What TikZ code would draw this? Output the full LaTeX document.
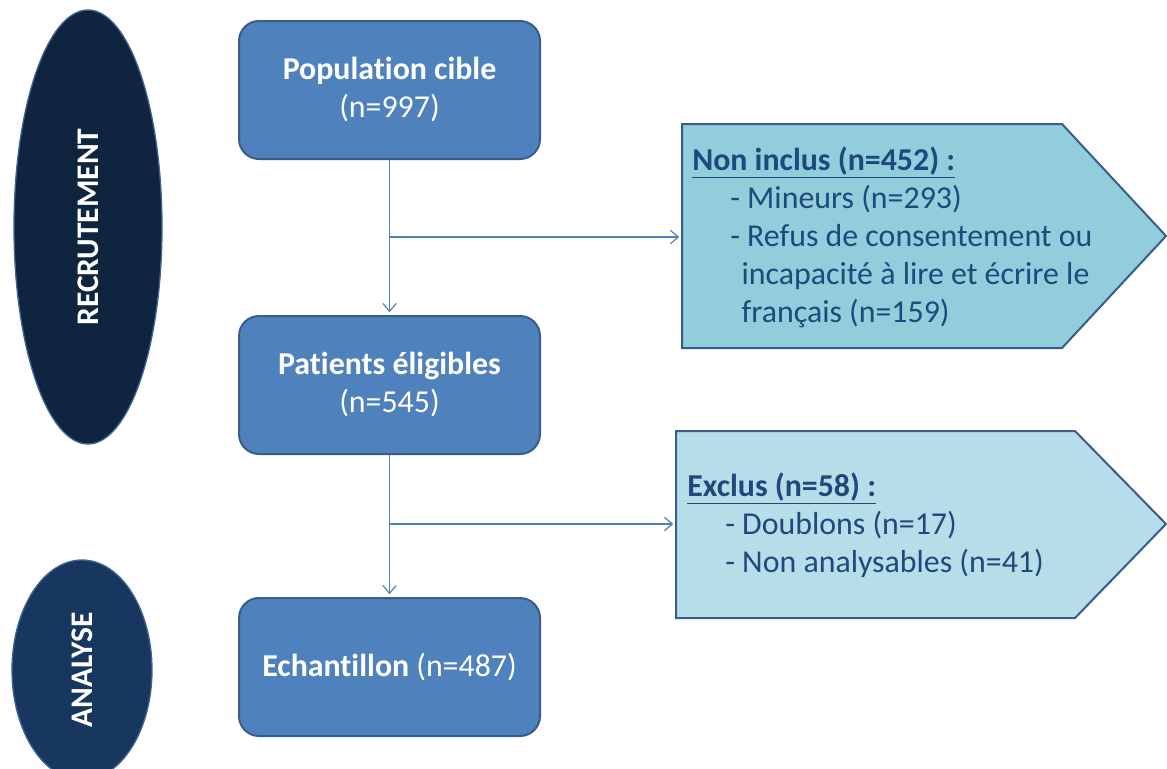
\documentclass[tikz,border=0pt]{standalone}
\usepackage{fontspec}
\setmainfont{Carlito}[Ligatures=NoCommon]
\usepackage{xcolor}
\usepackage{tikz}
\usetikzlibrary{shapes.geometric, arrows.meta}

\definecolor{boxfill}{HTML}{4F81BD}
\definecolor{boxline}{HTML}{385D8A}
\definecolor{phasefill}{HTML}{0F243E}
\definecolor{phasefillb}{HTML}{17375E}
\definecolor{nonfill}{HTML}{92CDDC}
\definecolor{exfill}{HTML}{B7DEE8}
\definecolor{textblue}{HTML}{1F497D}

\begin{document}
\begin{tikzpicture}[x=0.75pt,y=0.75pt,yscale=-1,xscale=1,
  stepbox/.style={draw=boxline, line width=1.5pt, fill=boxfill, rounded corners=15pt,
    minimum width=225.75pt, minimum height=103.5pt, text=white, align=center,
    font=\fontsize{23.9}{28.5}\selectfont},
  phase/.style={ellipse, draw=boxline!80!boxfill, line width=1pt, inner sep=0pt, text=white,
    font=\bfseries\fontsize{23.6}{28}\selectfont, rotate=90},
  tag/.style={draw=boxline, line width=1.5pt},
  list/.style={anchor=north west, inner sep=0pt, align=left, text=textblue,
    font=\fontsize{23.9}{28.5}\selectfont},
  flow/.style={draw=boxfill, line width=0.9pt, shorten >=2pt,
    -{Straight Barb[length=6pt,width=10pt]}}
]
\useasboundingbox (0,0) rectangle (1167,768);
\clip (0,0) rectangle (1167,768);

%Shape: Ellipse (phases)
\node[phase, fill=phasefill, minimum width=325.5pt, minimum height=111pt] (recr) at (88,227) {RECRUTEMENT};
\node[phase, fill=phasefillb, minimum width=165pt, minimum height=105pt] (anal) at (82,670) {ANALYSE};

%Shape: Rounded Rectangle (steps)
\node[stepbox] (pop) at (389.5,90) {\textbf{Population cible}\\(n=997)};
\node[stepbox] (elig) at (389.5,385) {\textbf{Patients éligibles}\\(n=545)};
\node[stepbox] (ech) at (389.5,667) {\textbf{Echantillon} (n=487)};

%Shape: Pentagon (non inclus)
\draw[tag, fill=nonfill] (682,124) -- (1062,124) -- (1166,236) -- (1062,348) -- (682,348) -- cycle;
\coordinate (nonin) at (682,237);
%Shape: Pentagon (exclus)
\draw[tag, fill=exfill] (676,431) -- (1075,431) -- (1166,524) -- (1075,618) -- (676,618) -- cycle;
\coordinate (excl) at (676,524);

% Text Node
\node[list] (nontxt) at (692,147) {\textbf{\underline{Non inclus (n=452) :}}\\
  \hspace*{28.5pt}- Mineurs (n=293)\\
  \hspace*{28.5pt}- Refus de consentement ou\\
  \hspace*{37pt}incapacité à lire et écrire le\\
  \hspace*{37pt}français (n=159)};
% Text Node
\node[list] (extxt) at (687,473) {\textbf{\underline{Exclus (n=58) :}}\\
  \hspace*{28.5pt}- Doublons (n=17)\\
  \hspace*{28.5pt}- Non analysables (n=41)};

%Straight Lines (flow)
\draw[flow] (pop) -- (elig);
\coordinate (fork1) at (pop.south |- nonin);
\draw[flow] (fork1) -- (nonin);
\draw[flow] (elig) -- (ech);
\coordinate (fork2) at (elig.south |- excl);
\draw[flow] (fork2) -- (excl);

\end{tikzpicture}
\end{document}
